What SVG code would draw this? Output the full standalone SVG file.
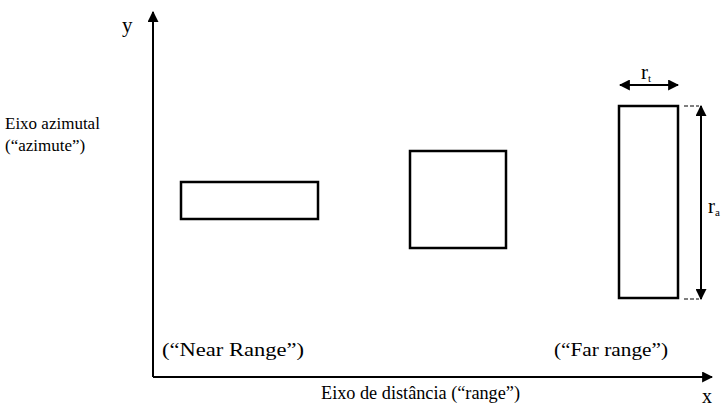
<svg xmlns="http://www.w3.org/2000/svg" width="722" height="410" viewBox="0 0 722 410">
<defs>
<marker id="ah" viewBox="0 0 10 10" refX="9" refY="5" markerWidth="11" markerHeight="11" markerUnits="userSpaceOnUse" orient="auto-start-reverse">
<path d="M0,0 L10,5 L0,10 z" fill="#000"/>
</marker>
<style>
.t{font-family:"Liberation Serif","Times New Roman",serif;fill:#000}
.box{fill:none;stroke:#000;stroke-width:2.5}
.ln{fill:none;stroke:#000;stroke-width:2}
.lead{fill:none;stroke:#000;stroke-width:1;stroke-dasharray:4 2}
</style>
</defs>
<rect width="722" height="410" fill="#fff"/>
<g id="connectors">
<line class="ln" x1="153" y1="377" x2="153" y2="12" marker-end="url(#ah)"/>
<line class="ln" x1="153" y1="377" x2="712" y2="377" marker-end="url(#ah)"/>
<line class="ln" x1="620" y1="85" x2="678" y2="85" marker-start="url(#ah)" marker-end="url(#ah)"/>
<line class="ln" x1="701" y1="106" x2="701" y2="299" marker-start="url(#ah)" marker-end="url(#ah)"/>
<line class="lead" x1="684" y1="106" x2="699" y2="106"/>
<line class="lead" x1="684" y1="299" x2="699" y2="299"/>
</g>
<g id="axis-labels">
<text class="t" x="122" y="32" font-size="21">y</text>
<text class="t" x="702" y="403" font-size="20">x</text>
<text class="t" x="5" y="129" font-size="17">Eixo azimutal</text>
<text class="t" x="5" y="151" font-size="17">(“azimute”)</text>
<text class="t" x="321" y="399" font-size="18" textLength="199" lengthAdjust="spacingAndGlyphs">Eixo de distância (“range”)</text>
<text class="t" x="162" y="356" font-size="18" textLength="142" lengthAdjust="spacingAndGlyphs">(“Near Range”)</text>
<text class="t" x="554" y="356" font-size="18" textLength="114" lengthAdjust="spacingAndGlyphs">(“Far range”)</text>
</g>
<g id="rect-near"><rect class="box" x="181" y="182" width="137" height="37"/></g>
<g id="rect-mid"><rect class="box" x="410" y="151" width="96" height="97"/></g>
<g id="rect-far"><rect class="box" x="619" y="106" width="59" height="192"/></g>
<g id="label-rt"><text class="t" x="641" y="79" font-size="21">r<tspan font-size="11" dy="3">t</tspan></text></g>
<g id="label-ra"><text class="t" x="708" y="213" font-size="21">r<tspan font-size="11" dy="3">a</tspan></text></g>
</svg>
